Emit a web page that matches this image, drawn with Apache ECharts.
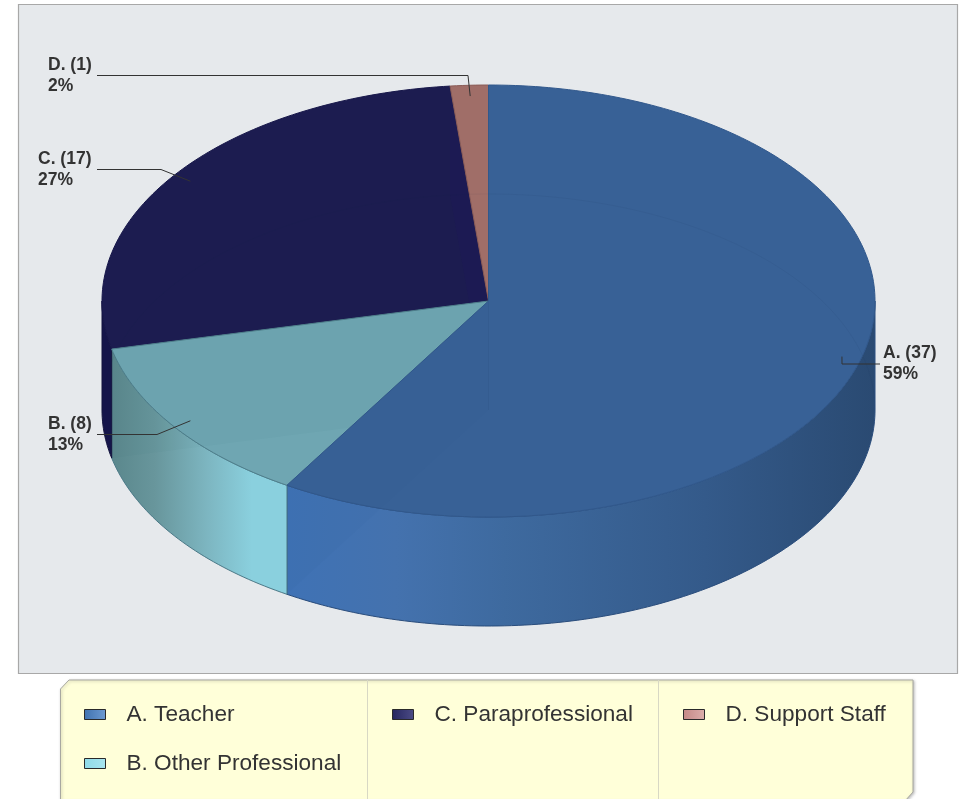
<!DOCTYPE html>
<html>
<head>
<meta charset="utf-8">
<style>html,body{margin:0;padding:0;background:#fff}#c{width:963px;height:799px}</style>
<script src="https://cdn.jsdelivr.net/npm/echarts@6/dist/echarts.min.js"></script>
</head>
<body>
<div id="c"></div>
<script>
// ---- data ----
const categories = ['A. Teacher', 'B. Other Professional', 'C. Paraprofessional', 'D. Support Staff'];
const shortNames = ['A.', 'B.', 'C.', 'D.'];
const counts = [37, 8, 17, 1];

// ---- styles and layout, kept apart from the data ----
const topColors = ['#386196', '#6fa6b2', '#1c1c50', '#a06e68'];
const edgeColors = ['#31588c', '#4f7f8c', '#17174a', '#8a5c57'];
const wallEdgeColors = ['#2c5080', '#4f7f8c', '#15153f', '#80524e'];
const paintRank = [3, 2, 0, 1];
// the inner end wall of each slice shows faintly through the slice's top
const overlayColors = ['rgba(30,70,130,0.05)', 'rgba(40,90,100,0.03)', 'rgba(30,20,110,0.12)', 'rgba(0,0,0,0)'];
const PIE = {cx: 488.5, cy: 301, rx: 386.5, ry: 216, depth: 109};
const wallStops = [
  [[0.24, '#3f72b5'], [0.38, '#4472ae'], [0.52, '#3e6a9f'], [0.78, '#345a8a'], [1, '#2a4a72']],
  [[0, '#5a878c'], [0.25, '#68969c'], [0.55, '#7db6c1'], [0.8, '#8ad0de'], [1, '#8ad0de']],
  [[0, '#15154a'], [1, '#15154a']],
  [[0, '#80524e'], [1, '#80524e']]
];
const wallSpans = [[102, 875], [111, 287], [102, 875], [102, 875]];
const labelLayout = [
  {x: 883, y: 342.5, elbow: [[842, 364], [880, 364]]},
  {x: 48, y: 414, elbow: [[157, 434.5], [97, 434.5]]},
  {x: 38, y: 148.5, elbow: [[161, 169.5], [97, 169.5]]},
  {x: 48, y: 54.5, elbow: [[468, 75.5], [97, 75.5]]}
];
const legendSwatches = [
  ['#3f72b0', '#6d9ad2'], ['#8fdbe8', '#a9e5ef'], ['#25255f', '#4c4c86'], ['#c58886', '#dcaeac']
];

// ---- derived ----
const total = counts.reduce((a, b) => a + b, 0);
const starts = counts.map((_, i) => counts.slice(0, i).reduce((a, b) => a + b, 0));
const rad = d => d * Math.PI / 180;
const pt = (deg, dy = 0, r = 1) => [
  PIE.cx + PIE.rx * r * Math.sin(rad(deg)),
  PIE.cy + dy - PIE.ry * r * Math.cos(rad(deg))
];
const arc = (a0, a1, dy = 0) => {
  const n = Math.max(2, Math.ceil(Math.abs(a1 - a0)));
  const out = [];
  for (let k = 0; k <= n; k++) out.push(pt(a0 + (a1 - a0) * k / n, dy));
  return out;
};

function renderSlice(i) {
  return function (params, api) {
    const v = api.value(0), s = api.value(1);
    const a0 = s / total * 360, a1 = (s + v) / total * 360, mid = (a0 + a1) / 2;
    const d = PIE.depth, base = 10 + paintRank[i] * 10;
    const center = [PIE.cx, PIE.cy], centerLow = [PIE.cx, PIE.cy + d];
    const kids = [];
    const fa0 = Math.max(a0, 90), fa1 = Math.min(a1, 270);
    if (fa1 > fa0) {
      const span = wallSpans[i];
      kids.push({
        type: 'polygon', z2: 1,
        shape: {points: arc(fa0, fa1).concat(arc(fa1, fa0, d))},
        style: {
          fill: new echarts.graphic.LinearGradient(span[0], 0, span[1], 0,
            wallStops[i].map(w => ({offset: w[0], color: w[1]})), true),
          stroke: wallEdgeColors[i], lineWidth: 1
        }
      });
    }
    kids.push({
      type: 'polygon', z2: base,
      shape: {points: [center].concat(arc(a0, a1))},
      style: {fill: topColors[i], stroke: edgeColors[i], lineWidth: 1}
    });
    kids.push({
      type: 'polygon', z2: base + 1,
      shape: {points: [center, centerLow, pt(a1, d), pt(a1)]},
      style: {fill: overlayColors[i]}
    });
    if (i === 0) {
      kids.push({
        type: 'line', z2: base + 2,
        shape: {x1: center[0], y1: center[1], x2: centerLow[0], y2: centerLow[1]},
        style: {stroke: 'rgba(20,30,60,0.06)', lineWidth: 1}
      });
    }
    kids.push({
      type: 'polyline', z2: base + 2,
      shape: {points: arc(a0, a1, d)},
      style: {fill: 'none', stroke: 'rgba(20,30,60,0.06)', lineWidth: 1}
    });
    const L = labelLayout[i];
    kids.push({
      type: 'polyline', z2: 200,
      shape: {points: [pt(mid, 0, 0.95)].concat(L.elbow)},
      style: {fill: 'none', stroke: '#333', lineWidth: 1}
    });
    const pct = Math.round(v / total * 100);
    kids.push({
      type: 'text', z2: 201,
      style: {
        x: L.x, y: L.y, text: shortNames[i] + ' (' + v + ')\n' + pct + '%',
        font: 'bold 17.5px "Liberation Sans", Arial, sans-serif',
        lineHeight: 21, fill: '#333', align: 'left', verticalAlign: 'top'
      }
    });
    return {type: 'group', children: kids};
  };
}

const chart = echarts.init(document.getElementById('c'), null, {renderer: 'canvas'});
const legendText = {
  fontFamily: '"Liberation Sans", Arial, sans-serif', fontSize: 22.6, color: '#333',
  padding: [0, 0, 0, 16]
};
const legendItem = i => ({
  name: categories[i], icon: 'rect',
  itemStyle: {
    color: new echarts.graphic.LinearGradient(0, 0, 1, 0, [
      {offset: 0, color: legendSwatches[i][0]}, {offset: 1, color: legendSwatches[i][1]}]),
    borderColor: '#2a2a2a', borderWidth: 1
  }
});
const legendBase = {
  orient: 'vertical', selectedMode: false, itemWidth: 21, itemHeight: 10, itemGap: 26,
  padding: 0, textStyle: legendText, top: 703
};
chart.setOption({
  animation: false,
  backgroundColor: '#ffffff',
  graphic: [
    {type: 'rect', z: -5, shape: {x: 18.5, y: 4.5, width: 939, height: 669},
     style: {fill: '#e6e9ec', stroke: '#a8a8a8', lineWidth: 1.2}},
    {type: 'polygon', z: -5,
     shape: {points: [[60.5, 689], [69, 680], [913, 680], [913, 792], [905, 801], [60.5, 801]]},
     style: {fill: '#ffffd9', stroke: '#a8a8a0', lineWidth: 1,
             shadowBlur: 3, shadowColor: 'rgba(0,0,0,0.25)', shadowOffsetX: 1, shadowOffsetY: 1}},
    {type: 'line', z: -4, shape: {x1: 367.5, y1: 680, x2: 367.5, y2: 799}, style: {stroke: '#d8d8c4', lineWidth: 1}},
    {type: 'line', z: -4, shape: {x1: 658.5, y1: 680, x2: 658.5, y2: 799}, style: {stroke: '#d8d8c4', lineWidth: 1}}
  ],
  legend: [
    Object.assign({left: 84, data: [legendItem(0), legendItem(1)]}, legendBase),
    Object.assign({left: 392, data: [legendItem(2)]}, legendBase),
    Object.assign({left: 683, data: [legendItem(3)]}, legendBase)
  ],
  series: categories.map((name, i) => ({
    type: 'custom', name, coordinateSystem: 'none', silent: true,
    itemStyle: {color: topColors[i]},
    renderItem: renderSlice(i),
    data: [[counts[i], starts[i]]]
  }))
});
</script>
</body>
</html>
